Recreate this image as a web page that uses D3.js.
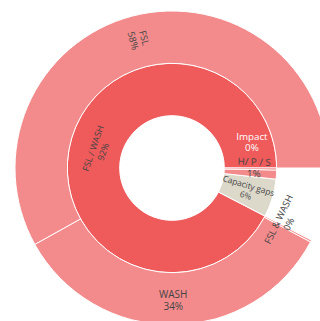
<!DOCTYPE html>
<html>
<head>
<meta charset="utf-8">
<script src="https://cdn.jsdelivr.net/npm/d3@7"></script>
<style>
  html, body { margin: 0; padding: 0; background: #fff; }
  svg { display: block; }
</style>
</head>
<body>
<svg id="chart" width="320" height="321"></svg>
<script>
// Ring 1: top-level categories and the values that sit directly on them
const innerLabels = ["FSL / WASH", "Capacity gaps", "H/ P / S", "Impact"];
const innerValues = [0, 59, 14, 3];
// Ring 2: breakdown of "FSL / WASH"
const outerParent = "FSL / WASH";
const outerLabels = ["FSL", "WASH", "FSL & WASH"];
const outerValues = [581, 341, 2];

const colors = {
  "FSL / WASH": "#ef5a5b",
  "Capacity gaps": "#dcd9cb",
  "H/ P / S": "#f38b8c",
  "Impact": "#ef5a5b",
  "FSL": "#f38b8c",
  "WASH": "#f38b8c",
  "FSL & WASH": "#f38b8c"
};

// Text placement per sector: orientation, font size, fill, optional tweaks
const labelStyle = {
  "FSL / WASH":    { orient: "tangential", size: 9, r: 76, rotate: -71 },
  "Capacity gaps": { orient: "radial", size: 8.4 },
  "H/ P / S":      { orient: "radial", size: 9.8, angle: 0.2, r: 82, rotate: 2 },
  "Impact":        { orient: "horizontal", size: 9.8, fill: "#ffffff", angle: 18, r: 84 },
  "FSL":           { orient: "radial", size: 9.5, r: 133 },
  "WASH":          { orient: "horizontal", size: 10, r: 133 },
  "FSL & WASH":    { orient: "tangential", size: 9.4, r: 124, angle: 334.3 }
};

const width = 320, height = 321;
const cx = 172, cy = 168;
const outerRadius = 157;

// Build the hierarchy
const rootData = {
  name: "root",
  children: innerLabels.map((name, i) => ({
    name,
    value: innerValues[i],
    children: name === outerParent
      ? outerLabels.map((n, j) => ({ name: n, value: outerValues[j] }))
      : []
  }))
};

const root = d3.hierarchy(rootData)
  .sum(d => d.children && d.children.length ? 0 : d.value)
  .sort((a, b) => b.value - a.value);

d3.partition().size([2 * Math.PI, 3])(root);

const total = root.value;

// partition x runs counter-clockwise from 3 o'clock; d3.arc is clockwise from 12
const angle = d3.scaleLinear().domain([0, 2 * Math.PI]).range([Math.PI / 2, Math.PI / 2 - 2 * Math.PI]);
const radius = d3.scaleLinear().domain([0, 3]).range([0, outerRadius]);

const arc = d3.arc()
  .startAngle(d => angle(d.x1))
  .endAngle(d => angle(d.x0))
  .innerRadius(d => radius(d.y0))
  .outerRadius(d => radius(d.y1));

const svg = d3.select("#chart");
const g = svg.append("g").attr("transform", `translate(${cx},${cy})`);

const nodes = root.descendants().filter(d => d.depth > 0);

g.selectAll("path.sector")
  .data(nodes)
  .join("path")
  .attr("class", "sector")
  .attr("d", arc)
  .attr("fill", d => colors[d.data.name])
  .attr("stroke", "#ffffff")
  .attr("stroke-width", 1);

// Normalise an angle in degrees so the text stays upright
function upright(rot) {
  rot = ((rot % 360) + 360) % 360;
  if (rot > 90 && rot < 270) rot -= 180;
  if (rot >= 270) rot -= 360;
  return rot;
}

// Labels
const labels = g.selectAll("text.lbl")
  .data(nodes)
  .join("text")
  .attr("class", "lbl")
  .attr("text-anchor", "middle")
  .attr("font-family", "'Open Sans', sans-serif")
  .attr("font-size", d => labelStyle[d.data.name].size)
  .attr("fill", d => labelStyle[d.data.name].fill || "#444444")
  .attr("transform", d => {
    const s = labelStyle[d.data.name];
    const midDeg = s.angle !== undefined ? s.angle : ((d.x0 + d.x1) / 2) * 180 / Math.PI;
    const r = s.r !== undefined ? s.r : (radius(d.y0) + radius(d.y1)) / 2;
    const th = midDeg * Math.PI / 180;
    const x = r * Math.cos(th), y = -r * Math.sin(th);
    let rot = 0;
    if (s.orient === "radial") rot = upright(-midDeg);
    else if (s.orient === "tangential") rot = upright(-midDeg + 90);
    if (s.rotate !== undefined) rot = s.rotate;
    return `translate(${x},${y}) rotate(${rot})`;
  });

labels.append("tspan")
  .attr("x", 0)
  .attr("dy", "-0.25em")
  .text(d => d.data.name);

labels.append("tspan")
  .attr("x", 0)
  .attr("dy", "1.2em")
  .text(d => Math.round(d.value / total * 100) + "%");
</script>
</body>
</html>
